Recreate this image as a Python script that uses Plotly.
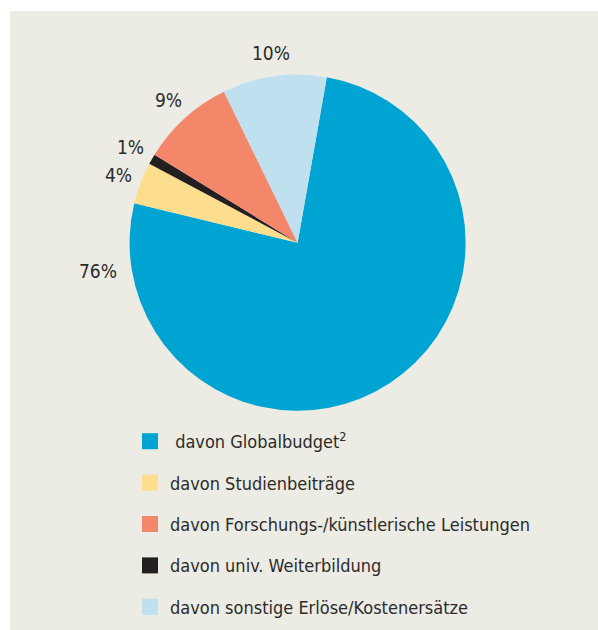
import math
import plotly.graph_objects as go

# legend order
categories = [" davon Globalbudget<sup>2</sup>", "davon Studienbeiträge",
              "davon Forschungs-/künstlerische Leistungen", "davon univ. Weiterbildung",
              "davon sonstige Erlöse/Kostenersätze"]
values = [76, 4, 9, 1, 10]
colors = ["#00A4D2", "#FDDE8F", "#F4866A", "#231F20", "#BEE0EF"]
# order of the slices around the pie (clockwise from the top)
pie_order = [0, 1, 3, 2, 4]

FONT = "DejaVu Sans Condensed, DejaVu Sans, sans-serif"
TXT = "#2B2B2B"
W, H = 598, 630
CX, CY, R = 297.6, 242.7, 168.0
ROTATION = 10
BIG_LABEL_ANGLE = 262  # where the label of the large slice sits

p_vals = [values[i] for i in pie_order]
p_cols = [colors[i] for i in pie_order]
p_labs = [categories[i] for i in pie_order]

fig = go.Figure()
fig.add_trace(go.Pie(
    values=p_vals, labels=p_labs, marker=dict(colors=p_cols, line=dict(width=0)),
    sort=False, direction="clockwise", rotation=ROTATION, textinfo="none",
    domain=dict(x=[(CX - R) / W, (CX + R) / W], y=[1 - (CY + R) / H, 1 - (CY - R) / H]),
    showlegend=False, hoverinfo="label+percent",
))

# percentage labels outside the slices
total = sum(p_vals)
cum = 0
for k, v in enumerate(p_vals):
    mid = ROTATION + 360 * (cum + v / 2) / total
    cum += v
    if k == 0:
        ang, rr = BIG_LABEL_ANGLE, R + 34
    else:
        ang, rr = mid, R + 24
    a = math.radians(ang)
    x = CX + rr * math.sin(a)
    y = CY - rr * math.cos(a)
    fig.add_annotation(x=x / W, y=1 - y / H, xref="paper", yref="paper",
                       text=f"{v}%", showarrow=False, xanchor="center", yanchor="middle",
                       font=dict(family=FONT, size=19, color=TXT))

for i, (lab, col) in enumerate(zip(categories, colors)):
    fig.add_trace(go.Scatter(
        x=[None], y=[None], mode="markers", name=lab, legendgroup=str(i),
        marker=dict(symbol="square", size=16, color=col), showlegend=True,
        hoverinfo="skip",
    ))

fig.add_shape(type="rect", xref="paper", yref="paper", x0=10 / W, x1=1, y0=0, y1=1 - 11 / H,
              fillcolor="#ECEBE4", line=dict(width=0), layer="below")

fig.update_layout(
    width=W, height=H, margin=dict(l=0, r=0, t=0, b=0),
    paper_bgcolor="white", plot_bgcolor="rgba(0,0,0,0)",
    xaxis=dict(visible=False), yaxis=dict(visible=False),
    font=dict(family=FONT, size=18, color=TXT),
    legend=dict(x=130 / W, y=1 - 423 / H, xanchor="left", yanchor="top",
                bgcolor="rgba(0,0,0,0)", tracegroupgap=15,
                font=dict(family=FONT, size=18, color=TXT)),
)
fig.write_html(
    "out.html",
    config={"displayModeBar": False},
    post_script="document.body.style.margin='0';document.body.style.overflow='hidden';",
)
